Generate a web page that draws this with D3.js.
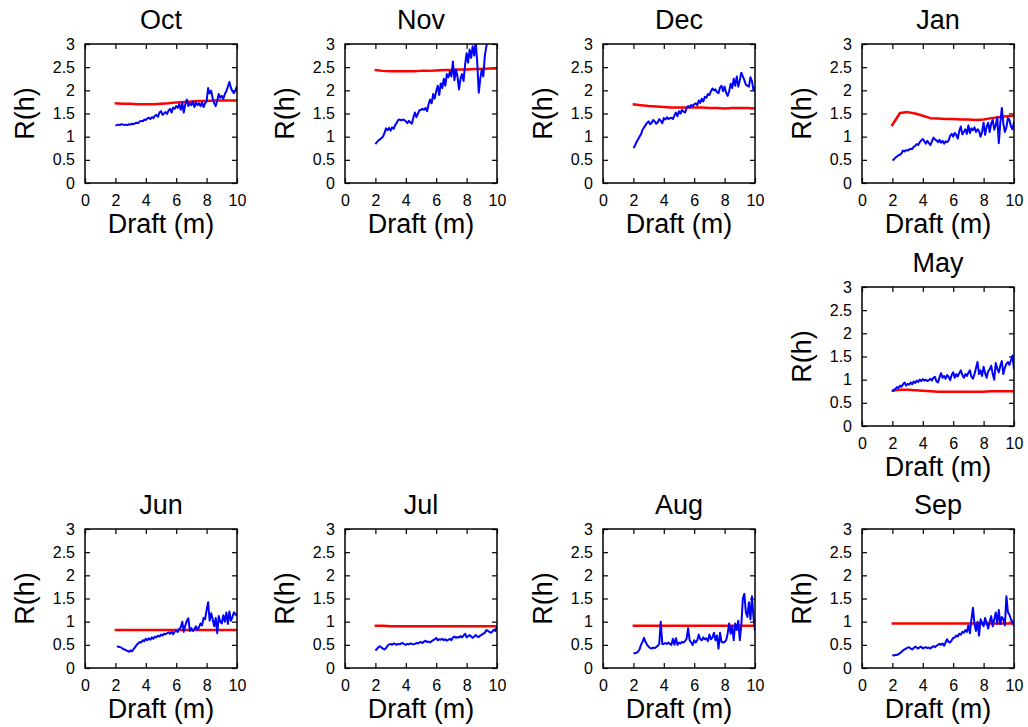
<!DOCTYPE html>
<html><head><meta charset="utf-8">
<script src="https://cdn.jsdelivr.net/npm/d3@7"></script>
<style>body{margin:0;background:#fff;} svg{display:block;font-family:"Liberation Sans",Arial,Helvetica,sans-serif;}</style>
</head><body><svg id="c" width="1028" height="727"></svg>
<script>
// ---------- data ----------
const draftX = [2.0,2.1,2.2,2.3,2.4,2.5,2.6,2.7,2.8,2.9,3.0,3.1,3.2,3.3,3.4,3.5,3.6,3.7,3.8,3.9,
  4.0,4.1,4.2,4.3,4.4,4.5,4.6,4.7,4.8,4.9,5.0,5.1,5.2,5.3,5.4,5.5,5.6,5.7,5.8,5.9,
  6.0,6.1,6.2,6.3,6.4,6.5,6.6,6.7,6.8,6.9,7.0,7.1,7.2,7.3,7.4,7.5,7.6,7.7,7.8,7.9,
  8.0,8.1,8.2,8.3,8.4,8.5,8.6,8.7,8.8,8.9,9.0,9.1,9.2,9.3,9.4,9.5,9.6,9.7,9.8,9.9,10.0];
const redX = [1.95,2.5,3,3.5,4,4.5,5,5.5,6,6.5,7,7.5,8,8.5,9,9.5,10];
const xTicks = [0,2,4,6,8,10];
const xTickLabels = ["0","2","4","6","8","10"];
const yTicks = [0,0.5,1,1.5,2,2.5,3];
const yTickLabels = ["0","0.5","1","1.5","2","2.5","3"];
const months = ["Oct","Nov","Dec","Jan","May","Jun","Jul","Aug","Sep"];
const xLabel = "Draft (m)";
const yLabel = "R(h)";

const blueOct = [1.24,1.25,1.26,1.25,1.27,1.26,1.25,1.26,1.25,1.27,1.26,1.28,1.27,1.29,1.30,1.29,1.33,1.34,1.33,1.37,
  1.36,1.39,1.41,1.38,1.42,1.40,1.45,1.47,1.43,1.52,1.55,1.47,1.50,1.53,1.49,1.57,1.60,1.52,1.63,1.60,
  1.66,1.62,1.70,1.58,1.73,1.52,1.70,1.80,1.66,1.72,1.68,1.76,1.64,1.74,1.68,1.72,1.66,1.74,1.64,1.72,
  1.76,2.05,1.93,1.99,1.82,1.72,1.66,1.78,1.92,1.84,1.88,1.82,1.92,1.98,2.08,2.18,2.05,1.98,1.94,2.00,2.10];
const blueNov = [0.84,0.88,0.92,0.94,0.97,1.00,1.08,1.18,1.14,1.19,1.13,1.20,1.17,1.25,1.30,1.36,1.37,1.35,1.37,1.36,
  1.33,1.29,1.34,1.31,1.28,1.42,1.52,1.42,1.50,1.57,1.58,1.60,1.58,1.62,1.55,1.70,1.80,1.72,1.92,1.82,
  1.98,2.10,1.90,2.15,2.05,2.25,2.10,2.35,2.28,2.40,2.30,2.62,2.22,2.45,2.30,2.02,2.25,2.35,2.20,2.55,
  2.80,2.60,2.88,2.70,2.95,2.75,3.05,2.60,1.95,2.25,2.45,2.30,2.75,2.95,3.10,3.20,3.30,3.25,3.40,3.50,3.55];
const blueDec = [0.76,0.80,0.88,0.94,1.00,1.05,1.15,1.20,1.25,1.30,1.33,1.27,1.30,1.36,1.33,1.28,1.31,1.38,1.34,1.29,
  1.40,1.37,1.42,1.38,1.40,1.41,1.38,1.46,1.52,1.44,1.55,1.50,1.58,1.54,1.52,1.62,1.66,1.63,1.68,1.66,
  1.70,1.72,1.68,1.78,1.73,1.82,1.76,1.86,1.84,1.92,1.90,1.98,2.04,2.00,2.02,1.96,1.94,2.06,2.10,1.98,
  2.08,1.95,1.88,1.98,2.14,2.05,2.25,2.10,2.30,2.08,2.22,2.38,2.30,2.22,2.12,2.10,2.08,2.28,2.20,2.00,2.08];
const blueJan = [0.49,0.51,0.55,0.57,0.60,0.61,0.64,0.70,0.68,0.71,0.70,0.72,0.74,0.73,0.78,0.80,0.84,0.82,0.88,0.92,
  0.95,0.90,0.85,0.91,0.86,0.82,0.90,0.98,0.94,0.92,0.88,0.93,0.87,0.91,0.85,0.90,0.88,0.92,1.02,1.06,
  1.00,1.08,1.04,0.96,1.12,1.22,1.05,1.10,1.16,1.06,1.24,1.08,1.18,1.14,1.20,1.10,1.16,1.12,1.00,1.10,
  1.30,1.04,1.22,1.30,1.10,1.28,1.36,1.15,1.25,1.42,0.86,1.30,1.62,1.28,1.10,1.20,1.40,1.36,1.22,1.16,1.32];
const blueMay = [0.74,0.78,0.80,0.84,0.82,0.87,0.85,0.90,0.94,0.87,0.91,0.89,0.94,0.90,0.96,0.93,0.98,0.95,1.00,0.97,
  1.01,0.98,1.00,0.97,0.99,1.02,0.98,1.04,1.06,0.96,0.94,1.05,1.14,1.04,1.08,1.02,1.10,1.06,0.99,1.10,
  1.16,1.04,1.12,1.07,1.14,1.20,1.10,1.04,1.12,1.08,1.15,1.20,1.06,1.02,1.12,1.25,1.38,1.12,1.20,1.08,
  1.28,1.14,1.04,1.18,1.22,1.30,1.12,1.00,1.36,1.24,1.16,1.30,1.40,1.12,1.26,1.34,1.38,1.32,1.42,1.52,1.22];
const blueJun = [null,0.47,0.46,0.45,0.44,0.41,0.40,0.38,0.37,0.35,0.38,0.36,0.41,0.45,0.50,0.53,0.56,0.55,0.60,0.58,
  0.63,0.60,0.64,0.61,0.66,0.63,0.68,0.66,0.70,0.68,0.72,0.70,0.74,0.73,0.75,0.77,0.74,0.78,0.73,0.79,
  0.80,0.78,0.84,0.88,1.00,0.78,0.92,1.02,1.07,0.80,0.86,0.80,0.84,0.90,0.82,0.88,0.96,0.92,1.08,1.05,
  1.25,1.42,1.02,1.18,1.05,0.90,1.08,0.75,1.12,1.00,0.96,1.14,1.00,1.20,0.95,1.22,1.02,1.10,1.20,1.16,1.12];
const blueJul = [0.38,0.41,0.45,0.47,0.44,0.42,0.40,0.43,0.48,0.51,0.52,0.50,0.53,0.52,0.50,0.52,0.51,0.53,0.54,0.51,
  0.50,0.52,0.51,0.53,0.52,0.51,0.52,0.54,0.53,0.55,0.56,0.54,0.57,0.59,0.56,0.57,0.55,0.58,0.60,0.62,
  0.65,0.60,0.62,0.61,0.63,0.60,0.62,0.59,0.61,0.63,0.60,0.66,0.68,0.65,0.67,0.66,0.69,0.66,0.70,0.74,
  0.66,0.69,0.71,0.68,0.65,0.68,0.71,0.68,0.67,0.70,0.72,0.74,0.76,0.82,0.80,0.78,0.76,0.79,0.83,0.80,0.90];
const blueAug = [0.32,0.32,0.33,0.35,0.40,0.50,0.57,0.65,0.56,0.50,0.46,0.43,0.42,0.44,0.43,0.45,0.48,0.52,1.00,0.52,
  0.52,0.54,0.52,0.55,0.52,0.50,0.63,0.50,0.64,0.50,0.55,0.53,0.56,0.55,0.58,0.63,0.86,0.60,0.55,0.50,
  0.60,0.55,0.60,0.72,0.62,0.60,0.66,0.62,0.64,0.58,0.72,0.62,0.66,0.76,0.60,0.70,0.42,0.76,0.56,0.55,
  0.56,0.60,0.74,0.96,0.74,0.90,0.60,0.96,0.82,1.02,0.60,0.92,1.50,1.60,1.20,1.10,1.42,1.05,1.55,1.10,0.80];
const blueSep = [0.28,0.27,0.28,0.28,0.30,0.32,0.35,0.38,0.40,0.42,0.44,0.45,0.42,0.40,0.43,0.46,0.44,0.42,0.45,0.46,
  0.42,0.44,0.45,0.43,0.44,0.42,0.45,0.47,0.45,0.48,0.50,0.52,0.50,0.53,0.48,0.55,0.62,0.56,0.55,0.60,
  0.65,0.66,0.70,0.68,0.74,0.72,0.78,0.76,0.82,0.78,0.92,0.75,1.05,1.30,0.95,0.80,1.00,0.70,1.05,0.98,
  0.90,1.08,0.98,0.85,1.00,1.12,0.90,1.05,1.20,0.95,1.25,0.95,1.10,1.05,0.92,1.55,1.20,1.15,1.05,1.00,0.90];

const redOct = [1.72,1.71,1.71,1.70,1.70,1.70,1.71,1.72,1.74,1.75,1.76,1.77,1.77,1.78,1.78,1.78,1.78];
const redNov = [2.44,2.42,2.41,2.41,2.41,2.41,2.42,2.42,2.43,2.44,2.44,2.45,2.45,2.46,2.46,2.47,2.47];
const redDec = [1.70,1.68,1.66,1.65,1.64,1.63,1.63,1.63,1.63,1.63,1.62,1.62,1.61,1.62,1.62,1.62,1.61];
const redJan = [1.23,1.51,1.53,1.50,1.45,1.40,1.39,1.38,1.38,1.37,1.37,1.36,1.37,1.40,1.42,1.44,1.45];
const redMay = [0.76,0.78,0.78,0.77,0.76,0.75,0.74,0.74,0.74,0.74,0.74,0.74,0.74,0.75,0.75,0.75,0.75];
const redJun = [0.82,0.82,0.82,0.82,0.82,0.82,0.82,0.82,0.82,0.82,0.82,0.82,0.82,0.82,0.82,0.82,0.82];
const redJul = [0.91,0.91,0.90,0.90,0.90,0.90,0.90,0.90,0.90,0.90,0.90,0.90,0.90,0.90,0.90,0.90,0.90];
const redAug = [0.91,0.91,0.91,0.91,0.91,0.91,0.91,0.91,0.91,0.91,0.91,0.91,0.91,0.91,0.91,0.91,0.91];
const redSep = [0.96,0.96,0.96,0.96,0.96,0.96,0.96,0.96,0.96,0.96,0.96,0.96,0.96,0.96,0.96,0.96,0.96];

const blueSeries = [blueOct,blueNov,blueDec,blueJan,blueMay,blueJun,blueJul,blueAug,blueSep];
const redSeries = [redOct,redNov,redDec,redJan,redMay,redJun,redJul,redAug,redSep];

// ---------- layout ----------
const colLeft = [85, 345, 603, 862];
const rowTop = [44, 287, 529];
const grid = [[0,0],[0,1],[0,2],[0,3],[1,3],[2,0],[2,1],[2,2],[2,3]];
const W = 152, H = 139;

const svg = d3.select("#c");
const x = d3.scaleLinear().domain([0,10]).range([0,W]);
const y = d3.scaleLinear().domain([0,3]).range([H,0]);

months.forEach((m, i) => {
  const [r, c] = grid[i];
  const g = svg.append("g").attr("transform", `translate(${colLeft[c]},${rowTop[r]})`);
  const cid = "clip" + i;
  g.append("clipPath").attr("id", cid).append("rect").attr("width", W).attr("height", H);

  const ax = (sel, axis) => { sel.call(axis); sel.select(".domain").remove();
    sel.selectAll(".tick line").attr("stroke", "#000").attr("stroke-width", 1.2);
    sel.selectAll("text").attr("font-size", 16).attr("fill", "#000").attr("font-family", "Liberation Sans, Arial, sans-serif"); };
  ax(g.append("g").attr("transform", `translate(0,${H})`),
     d3.axisBottom(x).tickValues(xTicks).tickFormat((d,k)=>xTickLabels[k]).tickSizeInner(-5).tickSizeOuter(0).tickPadding(12));
  ax(g.append("g"),
     d3.axisTop(x).tickValues(xTicks).tickFormat("").tickSizeInner(-5).tickSizeOuter(0));
  ax(g.append("g"),
     d3.axisLeft(y).tickValues(yTicks).tickFormat((d,k)=>yTickLabels[k]).tickSizeInner(-5).tickSizeOuter(0).tickPadding(10));
  ax(g.append("g").attr("transform", `translate(${W},0)`),
     d3.axisRight(y).tickValues(yTicks).tickFormat("").tickSizeInner(-5).tickSizeOuter(0));

  const line = d3.line().defined(d => d[1] != null).x(d => x(d[0])).y(d => y(d[1]));
  const plot = g.append("g").attr("clip-path", `url(#${cid})`);
  plot.append("path").datum(redX.map((v,k)=>[v, redSeries[i][k]]))
    .attr("d", line).attr("fill", "none").attr("stroke", "#ff0000").attr("stroke-width", 2.5).attr("stroke-linejoin","round");
  plot.append("path").datum(draftX.map((v,k)=>[v, blueSeries[i][k]]))
    .attr("d", line).attr("fill", "none").attr("stroke", "#0000ff").attr("stroke-width", 2).attr("stroke-linejoin","round");

  g.append("rect").attr("width", W).attr("height", H).attr("fill", "none").attr("stroke", "#000").attr("stroke-width", 1.5);

  g.append("text").attr("x", W/2).attr("y", -15).attr("text-anchor", "middle").attr("font-size", 27).text(m);
  g.append("text").attr("x", W/2).attr("y", H + 50).attr("text-anchor", "middle").attr("font-size", 27).text(xLabel);
  g.append("text").attr("transform", `translate(-51,${H/2}) rotate(-90)`).attr("text-anchor", "middle").attr("font-size", 27).text(yLabel);
});
</script></body></html>
